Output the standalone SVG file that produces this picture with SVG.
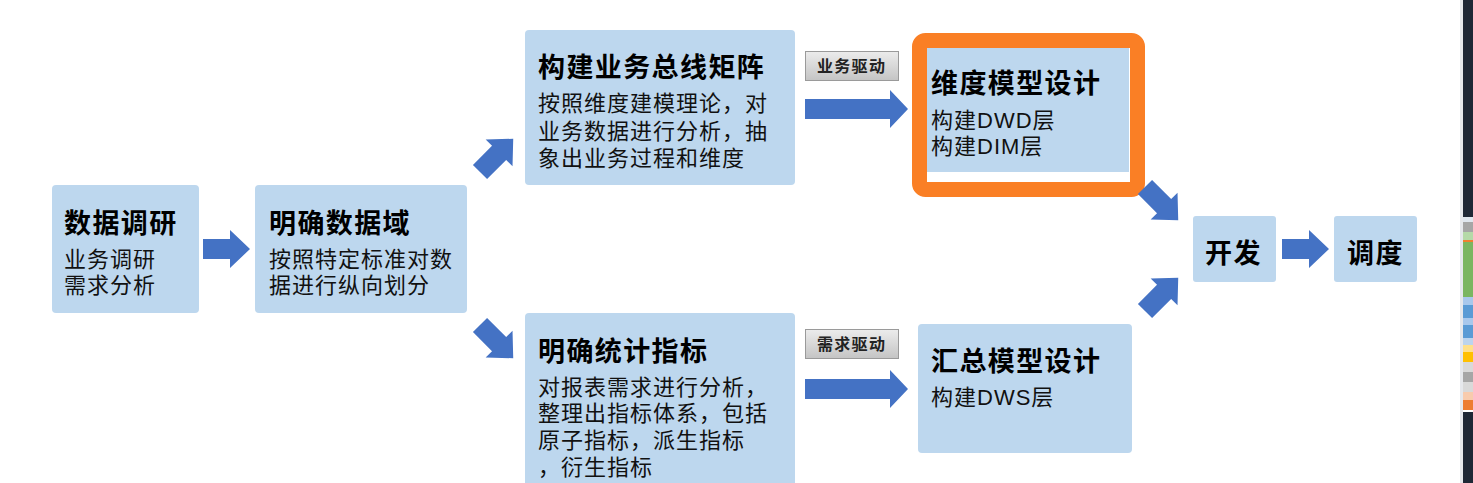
<svg xmlns="http://www.w3.org/2000/svg" xmlns:xlink="http://www.w3.org/1999/xlink" width="1473" height="483" viewBox="0 0 1473 483">
<style>
.box{fill:#BDD7EE;}
.t{font-family:"Liberation Sans","Noto Sans CJK SC",sans-serif;font-weight:bold;font-size:27px;letter-spacing:1.4px;fill:#000;}
.s{font-family:"Liberation Sans","Noto Sans CJK SC",sans-serif;font-size:22px;letter-spacing:1px;fill:#111;}
.lb{font-family:"Liberation Sans","Noto Sans CJK SC",sans-serif;font-weight:bold;font-size:16px;letter-spacing:1.3px;fill:#222;}
.arr{fill:#4472C4;}
.tag{fill:url(#g);stroke:#9a9a9a;stroke-width:1;}
</style>
<defs>
<linearGradient id="g" x1="0" y1="0" x2="0" y2="1">
<stop offset="0" stop-color="#ececec"/>
<stop offset="1" stop-color="#c4c4c4"/>
</linearGradient>
<path id="a" d="M0,-10 L27,-10 L27,-19 L47,0 L27,19 L27,10 L0,10 Z"/>
<path id="al" d="M0,-10 L85,-10 L85,-19 L103,0 L85,19 L85,10 L0,10 Z"/>
</defs>
<rect width="1473" height="483" fill="#fff"/>

<g id="n1">
<rect class="box" x="52" y="185" width="147" height="128" rx="4"/>
<text class="t" x="64" y="233">数据调研</text>
<text class="s"><tspan x="64" y="267">业务调研</tspan><tspan x="64" y="293">需求分析</tspan></text>
</g>

<g id="n2">
<rect class="box" x="255" y="185" width="212" height="128" rx="4"/>
<text class="t" x="269" y="233">明确数据域</text>
<text class="s"><tspan x="269" y="267">按照特定标准对数</tspan><tspan x="269" y="293">据进行纵向划分</tspan></text>
</g>

<g id="n3">
<rect class="box" x="525" y="30" width="270" height="155" rx="4"/>
<text class="t" x="538" y="77">构建业务总线矩阵</text>
<text class="s"><tspan x="538" y="111">按照维度建模理论，对</tspan><tspan x="538" y="139">业务数据进行分析，抽</tspan><tspan x="538" y="166">象出业务过程和维度</tspan></text>
</g>

<g id="n4">
<rect class="box" x="525" y="313" width="270" height="200" rx="4"/>
<text class="t" x="538" y="361">明确统计指标</text>
<text class="s"><tspan x="538" y="395">对报表需求进行分析，</tspan><tspan x="538" y="421">整理出指标体系，包括</tspan><tspan x="538" y="448">原子指标，派生指标</tspan><tspan x="538" y="475">，衍生指标</tspan></text>
</g>

<g id="n5">
<rect x="927" y="48" width="202" height="133" fill="#fff"/>
<rect class="box" x="927" y="48" width="202" height="124"/>
<rect x="919.5" y="40.5" width="218" height="149" rx="6" fill="none" stroke="#FA7F25" stroke-width="15"/>
<text class="t" x="931" y="93">维度模型设计</text>
<text class="s"><tspan x="931" y="128">构建DWD层</tspan><tspan x="931" y="154">构建DIM层</tspan></text>
</g>

<g id="n6">
<rect class="box" x="918" y="324" width="214" height="129" rx="4"/>
<text class="t" x="931" y="371">汇总模型设计</text>
<text class="s" x="931" y="405">构建DWS层</text>
</g>

<g id="n7">
<rect class="box" x="1193" y="216" width="83" height="66" rx="3"/>
<text class="t" x="1205" y="263">开发</text>
</g>

<g id="n8">
<rect class="box" x="1334" y="216" width="83" height="66" rx="3"/>
<text class="t" x="1347" y="263">调度</text>
</g>

<g id="l1">
<rect class="tag" x="805.5" y="51.5" width="93" height="29"/>
<text class="lb" x="817" y="72">业务驱动</text>
</g>
<g id="l2">
<rect class="tag" x="805.5" y="329.5" width="93" height="29"/>
<text class="lb" x="817" y="350">需求驱动</text>
</g>

<g id="connectors">
<use xlink:href="#a" class="arr" transform="translate(203,249)"/>
<use xlink:href="#a" class="arr" transform="translate(480,172) rotate(-45)"/>
<use xlink:href="#a" class="arr" transform="translate(480,325) rotate(45)"/>
<use xlink:href="#al" class="arr" transform="translate(805,109)"/>
<use xlink:href="#al" class="arr" transform="translate(805,389)"/>
<use xlink:href="#a" class="arr" transform="translate(1145,187) rotate(45)"/>
<use xlink:href="#a" class="arr" transform="translate(1145,311) rotate(-45)"/>
<use xlink:href="#a" class="arr" transform="translate(1282,249)"/>
</g>

<g id="edge">
<rect x="1460" y="0" width="3" height="483" fill="#e6e8ec"/>
<rect x="1463" y="0" width="10" height="483" fill="#1f2836"/>
<rect x="1463" y="217" width="10" height="5" fill="#dfe6ee"/>
<rect x="1463" y="222" width="10" height="10" fill="#a6a6a6"/>
<rect x="1463" y="232" width="10" height="8" fill="#b5d9a8"/>
<rect x="1463" y="240" width="10" height="2" fill="#f08030"/>
<rect x="1463" y="242" width="10" height="55" fill="#7bb661"/>
<rect x="1463" y="297" width="10" height="8" fill="#a9c8ec"/>
<rect x="1463" y="305" width="10" height="13" fill="#5b9bd5"/>
<rect x="1463" y="318" width="10" height="7" fill="#a9c8ec"/>
<rect x="1463" y="325" width="10" height="13" fill="#5b9bd5"/>
<rect x="1463" y="338" width="10" height="7" fill="#bcd4ee"/>
<rect x="1463" y="345" width="10" height="7" fill="#ffe08a"/>
<rect x="1463" y="352" width="10" height="10" fill="#ffc000"/>
<rect x="1463" y="362" width="10" height="10" fill="#d9d9d9"/>
<rect x="1463" y="372" width="10" height="10" fill="#a6a6a6"/>
<rect x="1463" y="382" width="10" height="10" fill="#d9d9d9"/>
<rect x="1463" y="392" width="10" height="8" fill="#f8cbad"/>
<rect x="1463" y="400" width="10" height="10" fill="#ed7d31"/>
<rect x="1463" y="410" width="10" height="2" fill="#ffffff"/>
</g>
</svg>
